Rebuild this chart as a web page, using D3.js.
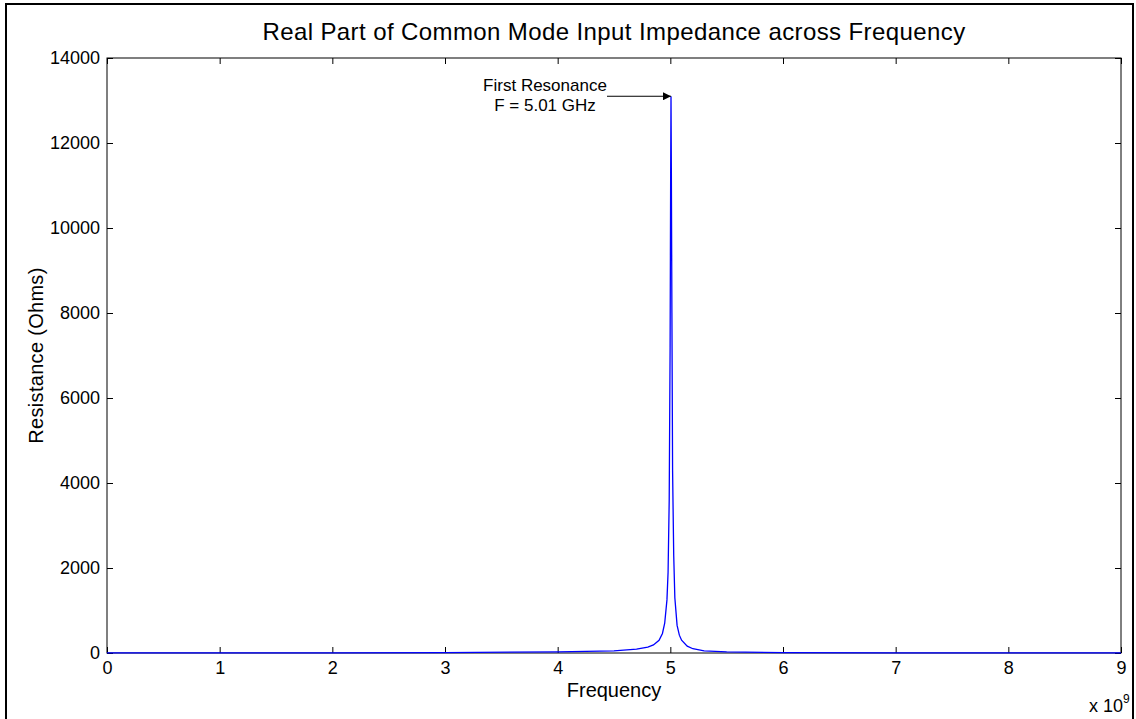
<!DOCTYPE html>
<html>
<head>
<meta charset="utf-8">
<script src="https://cdn.jsdelivr.net/npm/d3@7"></script>
<style>
  body { margin: 0; background: #fff; }
  svg { display: block; font-family: "Liberation Sans", Arial, sans-serif; }
</style>
</head>
<body>
<div id="chart"></div>
<script>
// frequency in GHz (axis shown with x 10^9 multiplier)
const freqGHz = [0, 1, 2, 3, 4, 4.5, 4.7, 4.8, 4.85, 4.9, 4.93, 4.95, 4.97, 4.98, 4.99,
  4.998, 5.003, 5.006, 5.009, 5.014, 5.02, 5.03, 5.04, 5.06, 5.08, 5.1, 5.15, 5.2, 5.3, 5.5, 6, 7, 8, 9];
const resistance = [2, 3, 5, 10, 25, 50, 90, 140, 190, 300, 460, 700, 1250, 1900, 3600,
  7200, 11300, 13100, 11400, 8000, 4300, 2300, 1300, 650, 420, 300, 160, 100, 50, 25, 10, 5, 3, 2];
const xTicks = [0, 1, 2, 3, 4, 5, 6, 7, 8, 9];
const yTicks = [0, 2000, 4000, 6000, 8000, 10000, 12000, 14000];
const peakF = 5.006, peakR = 13100;

const W = 1136, H = 719;
const margin = {left: 107, right: 15, top: 58, bottom: 66};

const svg = d3.select('#chart').append('svg')
    .attr('width', W)
    .attr('height', H);

// figure frame
svg.append('rect')
    .attr('x', 6).attr('y', 4)
    .attr('width', 1127).attr('height', 730)
    .attr('fill', 'none')
    .attr('stroke', '#000')
    .attr('stroke-width', 2);

const x = d3.scaleLinear().domain([0, 9]).range([margin.left, W - margin.right]);
const y = d3.scaleLinear().domain([0, 14000]).range([H - margin.bottom, margin.top]);

const x0 = x.range()[0], x1 = x.range()[1];
const yTop = y.range()[1], yBot = y.range()[0];

// axes, ticks pointing inward (and mirrored on opposite side)
svg.append('g')
    .attr('transform', `translate(0,${yBot})`)
    .call(d3.axisBottom(x).tickValues(xTicks).tickSize(-6).tickPadding(8).tickFormat(d3.format('d')))
    .call(g => g.select('.domain').remove());
svg.append('g')
    .attr('transform', `translate(0,${yTop})`)
    .call(d3.axisTop(x).tickValues(xTicks).tickSize(-6).tickFormat(''))
    .call(g => g.select('.domain').remove());
svg.append('g')
    .attr('transform', `translate(${x0},0)`)
    .call(d3.axisLeft(y).tickValues(yTicks).tickSize(-6).tickPadding(7).tickFormat(d3.format('d')))
    .call(g => g.select('.domain').remove());
svg.append('g')
    .attr('transform', `translate(${x1},0)`)
    .call(d3.axisRight(y).tickValues(yTicks).tickSize(-6).tickFormat(''))
    .call(g => g.select('.domain').remove());

svg.selectAll('.tick line').attr('stroke', '#000');
svg.selectAll('.tick text')
    .attr('font-family', '"Liberation Sans", Arial, sans-serif')
    .attr('font-size', 18)
    .attr('fill', '#000');

svg.append('rect')
    .attr('x', x0).attr('y', yTop)
    .attr('width', x1 - x0).attr('height', yBot - yTop)
    .attr('fill', 'none')
    .attr('stroke', '#000')
    .attr('stroke-width', 1);

// data line
const pts = freqGHz.map((f, i) => [f, resistance[i]]);
svg.append('path')
    .datum(pts)
    .attr('fill', 'none')
    .attr('stroke', '#0000ff')
    .attr('stroke-width', 1.3)
    .attr('d', d3.line().x(d => x(d[0])).y(d => y(d[1])));

// annotation
svg.append('defs').append('marker')
    .attr('id', 'arrow')
    .attr('viewBox', '0 0 10 10')
    .attr('refX', 10).attr('refY', 5)
    .attr('markerWidth', 10).attr('markerHeight', 8)
    .attr('markerUnits', 'userSpaceOnUse')
    .attr('orient', 'auto')
    .append('path')
    .attr('d', 'M0,0 L10,5 L0,10 Z')
    .attr('fill', '#000');

svg.append('line')
    .attr('x1', 607).attr('y1', y(peakR))
    .attr('x2', x(peakF)).attr('y2', y(peakR))
    .attr('stroke', '#000')
    .attr('stroke-width', 1)
    .attr('marker-end', 'url(#arrow)');

svg.append('text')
    .attr('x', 545).attr('y', 91)
    .attr('text-anchor', 'middle')
    .attr('font-size', 17)
    .text('First Resonance');
svg.append('text')
    .attr('x', 545).attr('y', 111)
    .attr('text-anchor', 'middle')
    .attr('font-size', 17)
    .text('F = 5.01 GHz');

// title and labels
svg.append('text')
    .attr('x', (x0 + x1) / 2).attr('y', 40)
    .attr('text-anchor', 'middle')
    .attr('font-size', 24)
    .attr('letter-spacing', 0.4)
    .text('Real Part of Common Mode Input Impedance across Frequency');

svg.append('text')
    .attr('x', (x0 + x1) / 2).attr('y', 697)
    .attr('text-anchor', 'middle')
    .attr('font-size', 20)
    .text('Frequency');

svg.append('text')
    .attr('transform', `translate(43,${(yTop + yBot) / 2}) rotate(-90)`)
    .attr('text-anchor', 'middle')
    .attr('font-size', 20)
    .attr('letter-spacing', 0.3)
    .text('Resistance (Ohms)');

const mult = svg.append('text')
    .attr('x', 1089).attr('y', 712)
    .attr('font-size', 18);
mult.append('tspan').text('x 10');
mult.append('tspan').attr('dy', -9).attr('font-size', 12).text('9');
</script>
</body>
</html>
